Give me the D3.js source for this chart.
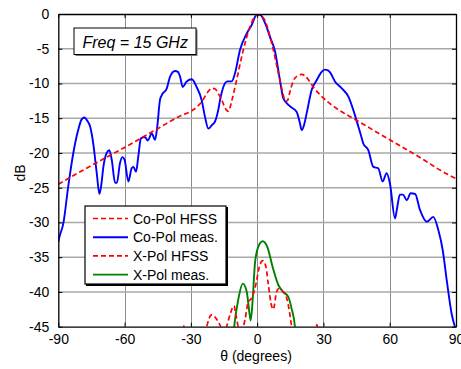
<!DOCTYPE html>
<html>
<head>
<meta charset="utf-8">
<script src="https://cdn.jsdelivr.net/npm/d3@7"></script>
<style>
  html, body { margin: 0; padding: 0; background: #fff; }
  svg { display: block; font-family: Arial, "Liberation Sans", sans-serif; }
</style>
</head>
<body>
<div id="chart"></div>
<script>
// angle (deg), level (dB)
const coPolHfss = [
  [-90, -24.5], [-75, -21.8], [-60, -19.2], [-45, -16.5], [-35, -14.7], [-30, -14.0],
  [-27, -13.3], [-25, -12.6], [-22.5, -11.3], [-20.5, -10.7], [-19, -10.8], [-17.5, -11.5],
  [-16, -12.4], [-14, -13.8], [-13, -14.0], [-11.5, -12.5], [-9.3, -9.5], [-6.3, -5.2],
  [-3.2, -1.8], [-1.5, -0.6], [0.5, -0.1], [2, -0.3], [3.5, -0.9], [5, -2.3], [6.6, -4.2],
  [9.6, -8.5], [11.5, -11.2], [12.8, -12.6], [13.8, -12.4], [15, -11.0], [16.4, -9.6],
  [18.2, -8.9], [20.2, -8.7], [22, -9.0], [23.5, -9.6], [25.4, -10.5], [30, -12.1],
  [36, -13.6], [45, -15.3], [60, -18.1], [75, -20.9], [83, -22.5], [90, -23.7]
];

const coPolMeas = [
  [-90, -32.8], [-89.5, -32.1], [-87.7, -30.1], [-85.5, -24.8], [-83.2, -20.0], [-81, -16.7],
  [-79.5, -15.2], [-78.3, -14.9], [-76.8, -15.4], [-75.6, -16.2], [-74.2, -18.6], [-72.6, -22.9],
  [-71.4, -25.9], [-70.5, -24.5], [-69.6, -22.0], [-68.1, -20.0], [-66.9, -19.6], [-65.8, -21.0],
  [-64.3, -24.3], [-63.5, -24.3], [-62.1, -21.5], [-61, -20.6], [-60, -21.0], [-58.3, -24.1],
  [-56.8, -22.2], [-56, -22.0], [-54.8, -22.7], [-53.8, -20.5], [-52.6, -17.9], [-50.8, -17.7],
  [-49.5, -18.2], [-47.7, -17.2], [-46.2, -18.1], [-45.2, -16.2], [-44, -12.4], [-43.2, -11.7],
  [-40.9, -10.7], [-39.4, -9.0], [-37.2, -8.2], [-36, -8.3], [-34.9, -9.0], [-33.7, -10.5],
  [-31.9, -9.7], [-29.6, -9.4], [-27.4, -10.5], [-25.1, -12.4], [-23.6, -14.8], [-22.1, -16.5],
  [-20.5, -16.0], [-19.1, -15.5], [-17.6, -13.8], [-16.8, -12.4], [-15.3, -10.5], [-13.5, -9.7],
  [-11.5, -9.7], [-10, -8.5], [-7.8, -5.2], [-4.7, -2.8], [-2.5, -1.6], [-0.2, -0.1],
  [1.3, -0.1], [3.6, -1.3], [5.8, -3.3], [8.1, -5.4], [10.3, -9.5], [11.8, -12.1],
  [14.9, -13.3], [17.9, -14.1], [19.2, -15.5], [20.2, -16.7], [21.2, -16.0], [22.4, -14.3],
  [24.7, -10.9], [27, -9.5], [29, -8.4], [30.7, -8.0], [32, -8.1], [33, -8.4], [35.2, -9.7],
  [38.3, -10.7], [41.3, -11.9], [43.5, -13.8], [45.8, -16.2], [47, -17.5], [48, -18.6],
  [50.3, -19.6], [52.6, -22.0], [54.8, -22.2], [56.8, -24.1], [58.6, -22.9], [60.1, -24.4],
  [62.4, -29.4], [63.3, -28.0], [64.6, -26.0], [66, -26.0], [67.7, -26.8], [69.5, -25.8],
  [71.5, -25.9], [73.7, -28.2], [76.8, -29.9], [79.7, -29.2], [82, -31.1], [84, -34.0],
  [85.8, -38.3], [88, -43.1], [90, -45.5]
];

const xPolHfss = [
  [-35, -47], [-33.4, -44.8], [-32, -47], [-24, -47], [-22.8, -45], [-20.6, -43.3],
  [-17.6, -44.3], [-16.5, -45], [-15, -46.5], [-13.8, -45], [-12, -43], [-10.5, -42],
  [-9.5, -43.5], [-8.5, -45], [-7, -45.5], [-5.5, -44], [-4, -41.4], [-2.5, -40.9],
  [-0.5, -38.8], [0.8, -36.6], [2.5, -35.5], [4, -36.4], [5, -38.8], [6.6, -42.1],
  [7.3, -42.5], [8.8, -40], [9.9, -39.5], [11.8, -40], [13.4, -40.9], [14.6, -42.8],
  [15.6, -45], [17, -48], [26, -47], [27, -44.7], [28, -47]
];

const xPolMeas = [
  [-11, -47], [-10.4, -45], [-8.5, -41], [-6.5, -38.8], [-4.7, -40], [-3.5, -43],
  [-2.9, -44.1], [-2, -41], [-1, -35.9], [0.5, -33.5], [2.5, -32.7], [4.6, -33.5],
  [7, -36.4], [9.6, -39], [11.8, -40], [14.1, -40.7], [15.6, -42.4], [17.1, -45], [17.5, -47]
];

const xTicks = [-90, -60, -30, 0, 30, 60, 90];
const yTicks = [0, -5, -10, -15, -20, -25, -30, -35, -40, -45];

const legendLabels = ['Co-Pol HFSS', 'Co-Pol meas.', 'X-Pol HFSS', 'X-Pol meas.'];

const width = 461;
const height = 369;
const plot = { left: 58.3, right: 456, top: 14, bottom: 326.7 };

const series = [
  { data: coPolMeas, color: '#0000ff', dash: null },
  { data: coPolHfss, color: '#ff0000', dash: '5,3' },
  { data: xPolMeas, color: '#008000', dash: null },
  { data: xPolHfss, color: '#ff0000', dash: '5,3' }
];
const legendStyle = [
  { color: '#ff0000', dash: '5,3' },
  { color: '#0000ff', dash: null },
  { color: '#ff0000', dash: '5,3' },
  { color: '#008000', dash: null }
];

const x = d3.scaleLinear().domain([-90, 90]).range([plot.left, plot.right]);
const y = d3.scaleLinear().domain([-45, 0]).range([plot.bottom, plot.top]);

// plain hyphen for negatives, like the original
const fmt = d => String(d);

const svg = d3.select('#chart')
  .append('svg')
  .attr('width', width)
  .attr('height', height);

svg.append('defs').append('clipPath')
  .attr('id', 'plot-clip')
  .append('rect')
  .attr('x', plot.left)
  .attr('y', plot.top)
  .attr('width', plot.right - plot.left)
  .attr('height', plot.bottom - plot.top);

// Grid
const grid = svg.append('g').attr('stroke', '#8c8c8c').attr('stroke-width', 1);
grid.selectAll('line.vx')
  .data(xTicks.slice(1, -1))
  .join('line')
  .attr('x1', d => Math.round(x(d)) + 0.5)
  .attr('x2', d => Math.round(x(d)) + 0.5)
  .attr('y1', plot.top)
  .attr('y2', plot.bottom);
grid.selectAll('line.hy')
  .data(yTicks.slice(1, -1))
  .join('line')
  .attr('stroke', '#a8a8a8')
  .attr('stroke-width', 1.4)
  .attr('x1', plot.left)
  .attr('x2', plot.right)
  .attr('y1', d => y(d))
  .attr('y2', d => y(d));

// Curves
const line = d3.line()
  .x(d => x(d[0]))
  .y(d => y(d[1]))
  .curve(d3.curveMonotoneX);

const curves = svg.append('g').attr('clip-path', 'url(#plot-clip)');
for (const s of series) {
  curves.append('path')
    .datum(s.data)
    .attr('fill', 'none')
    .attr('stroke', s.color)
    .attr('stroke-width', s.dash ? 1.7 : 1.9)
    .attr('stroke-dasharray', s.dash)
    .attr('stroke-linejoin', 'round')
    .attr('d', line);
}

// Axes box with inner ticks on all sides
const axisBottom = svg.append('g')
  .attr('transform', `translate(0,${plot.bottom})`)
  .call(d3.axisBottom(x).tickValues(xTicks).tickFormat(fmt).tickSizeInner(-4).tickSizeOuter(0).tickPadding(7));
const axisTop = svg.append('g')
  .attr('transform', `translate(0,${plot.top})`)
  .call(d3.axisTop(x).tickValues(xTicks).tickSizeInner(-4).tickSizeOuter(0).tickFormat(''));
const axisLeft = svg.append('g')
  .attr('transform', `translate(${plot.left},0)`)
  .call(d3.axisLeft(y).tickValues(yTicks).tickFormat(fmt).tickSizeInner(-4).tickSizeOuter(0).tickPadding(9));
const axisRight = svg.append('g')
  .attr('transform', `translate(${plot.right},0)`)
  .call(d3.axisRight(y).tickValues(yTicks).tickSizeInner(-4).tickSizeOuter(0).tickFormat(''));

for (const a of [axisBottom, axisTop, axisLeft, axisRight]) {
  a.select('.domain').attr('stroke', '#000').attr('stroke-width', 1.3);
  a.selectAll('.tick line').attr('stroke', '#000');
  a.selectAll('.tick text')
    .attr('fill', '#000')
    .attr('font-size', 14)
    .attr('font-family', 'Arial, "Liberation Sans", sans-serif');
}
axisBottom.selectAll('.tick text').attr('dy', '0.71em');

// Axis labels
svg.append('text')
  .attr('x', 256)
  .attr('y', 360.5)
  .attr('text-anchor', 'middle')
  .attr('font-size', 14)
  .text('θ (degrees)');

svg.append('text')
  .attr('transform', 'translate(25,173) rotate(-90)')
  .attr('text-anchor', 'middle')
  .attr('font-size', 14)
  .text('dB');

// Frequency annotation
const note = svg.append('g');
note.append('rect')
  .attr('x', 75.5).attr('y', 29.5)
  .attr('width', 122).attr('height', 26.5)
  .attr('fill', '#777');
note.append('rect')
  .attr('x', 74).attr('y', 28)
  .attr('width', 122).attr('height', 26.5)
  .attr('fill', '#fff')
  .attr('stroke', '#000')
  .attr('stroke-width', 1);
note.append('text')
  .attr('x', 82.5)
  .attr('y', 47.5)
  .attr('font-size', 16)
  .attr('font-style', 'italic')
  .text('Freq = 15 GHz');

// Legend
const legend = svg.append('g');
legend.append('rect')
  .attr('x', 86).attr('y', 207)
  .attr('width', 142).attr('height', 79)
  .attr('fill', '#000');
legend.append('rect')
  .attr('x', 85).attr('y', 206)
  .attr('width', 141).attr('height', 78)
  .attr('fill', '#fff')
  .attr('stroke', '#000')
  .attr('stroke-width', 1.2);

const rows = legend.selectAll('g.row')
  .data(legendLabels)
  .join('g')
  .attr('transform', (d, i) => `translate(0,${218.5 + i * 18.7})`);
rows.append('line')
  .attr('x1', 93).attr('x2', 128)
  .attr('y1', 0).attr('y2', 0)
  .attr('stroke', (d, i) => legendStyle[i].color)
  .attr('stroke-width', (d, i) => legendStyle[i].dash ? 1.7 : 1.9)
  .attr('stroke-dasharray', (d, i) => legendStyle[i].dash);
rows.append('text')
  .attr('x', 133)
  .attr('y', 0)
  .attr('dy', '0.36em')
  .attr('font-size', 14)
  .text(d => d);
</script>
</body>
</html>
